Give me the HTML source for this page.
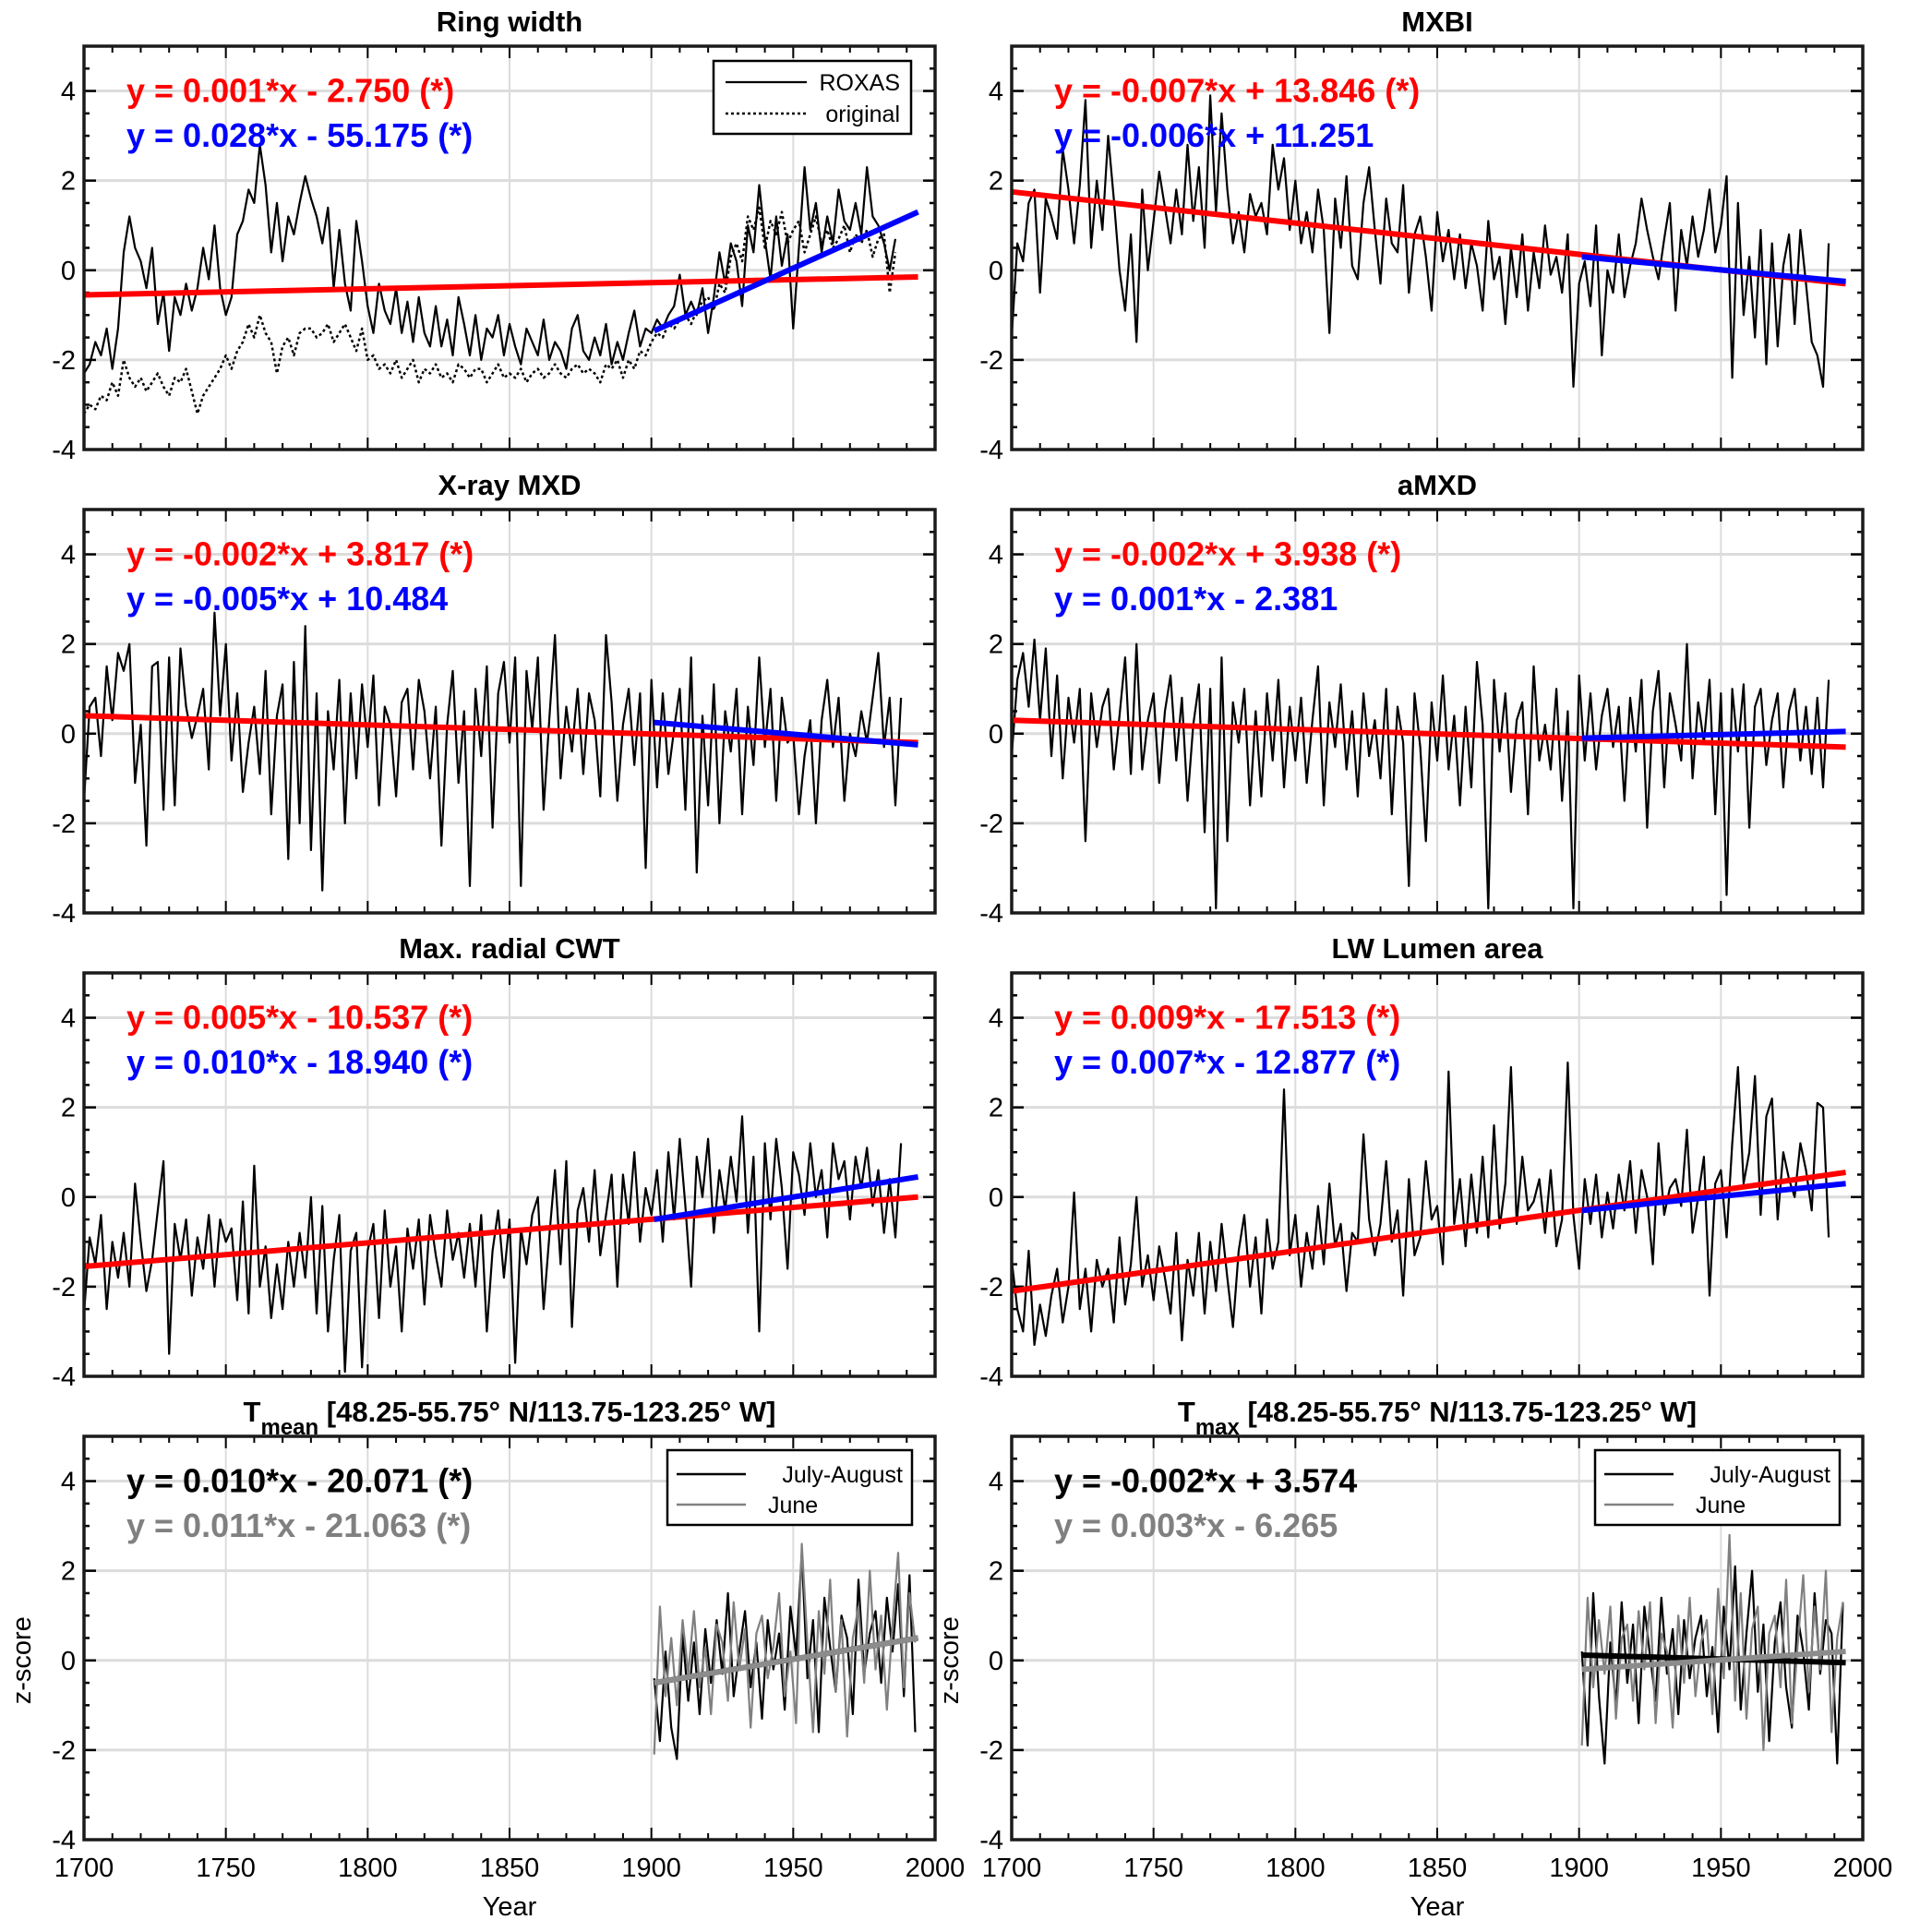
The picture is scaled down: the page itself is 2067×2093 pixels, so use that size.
<!DOCTYPE html>
<html><head><meta charset="utf-8"><style>
html,body{margin:0;padding:0;background:#fff;}
svg{display:block;font-family:"Liberation Sans",Arial,sans-serif;}
</style></head><body>
<svg id="fig" xmlns="http://www.w3.org/2000/svg" width="2067" height="2093" viewBox="0 0 2067 2093"></svg>
<script>
// ---- data (1700..1994 step 2 for proxies; 1901..1994 step 2 for climate) ----
const rwRoxas=[-2.3,-2.1,-1.6,-1.9,-1.3,-2.2,-1.3,0.4,1.2,0.5,0.2,-0.4,0.5,-1.2,-0.5,-1.8,-0.6,-1.0,-0.3,-0.9,-0.4,0.5,-0.2,1.0,-0.4,-1.0,-0.6,0.8,1.1,1.8,1.5,2.8,1.9,0.4,1.5,0.2,1.2,0.8,1.5,2.1,1.6,1.2,0.6,1.4,-0.4,0.9,-0.3,-0.9,1.1,0.2,-0.8,-1.4,-0.3,-0.9,-1.2,-0.4,-1.4,-0.7,-1.6,-0.6,-1.4,-1.7,-0.8,-1.7,-1.1,-1.9,-0.6,-1.2,-1.9,-1.0,-2.0,-1.3,-1.5,-1.0,-1.9,-1.2,-1.7,-2.1,-1.3,-1.6,-1.9,-1.1,-2.0,-1.6,-1.8,-2.2,-1.3,-1.0,-1.8,-2.0,-1.5,-1.9,-1.2,-2.1,-1.6,-2.0,-1.4,-0.9,-1.7,-1.3,-1.4,-1.1,-1.3,-1.0,-0.8,-0.1,-1.0,-0.7,-1.0,-0.4,-1.4,-0.6,0.4,-0.3,0.6,0.2,-0.8,1.0,0.4,1.9,0.7,-0.2,1.2,0.1,0.8,-1.3,0.5,2.3,0.9,1.5,0.4,1.2,0.6,1.8,1.1,0.9,1.5,0.8,2.3,1.2,1.0,0.6,0.0,0.7];
const rwOriginal=[-3.2,-3.0,-3.1,-2.8,-2.9,-2.5,-2.8,-2.0,-2.4,-2.6,-2.4,-2.7,-2.5,-2.3,-2.6,-2.8,-2.4,-2.5,-2.2,-2.7,-3.2,-2.8,-2.6,-2.4,-2.2,-1.9,-2.2,-1.8,-1.6,-1.2,-1.5,-1.0,-1.4,-1.6,-2.3,-1.7,-1.5,-1.9,-1.4,-1.3,-1.3,-1.5,-1.4,-1.2,-1.6,-1.4,-1.2,-1.5,-1.8,-1.3,-2.0,-1.9,-2.2,-2.1,-2.3,-2.0,-2.4,-2.2,-2.0,-2.5,-2.2,-2.3,-2.1,-2.4,-2.3,-2.5,-2.1,-2.2,-2.4,-2.2,-2.2,-2.5,-2.3,-2.1,-2.4,-2.3,-2.4,-2.2,-2.5,-2.3,-2.2,-2.4,-2.3,-2.1,-2.3,-2.4,-2.2,-2.1,-2.3,-2.2,-2.3,-2.5,-2.1,-2.2,-2.0,-2.4,-2.0,-2.2,-1.8,-1.9,-1.6,-1.4,-1.5,-1.2,-1.3,-1.1,-1.0,-1.2,-0.9,-0.7,-0.6,-0.9,-0.3,-0.5,0.3,0.6,0.2,1.2,0.9,1.4,0.5,1.1,0.8,1.3,0.6,0.9,1.1,0.4,0.8,1.2,0.6,0.9,0.5,0.7,1.0,0.4,0.8,0.6,0.9,0.3,0.7,0.8,-0.5,0.4];
const mxbi=[-1.5,0.6,0.2,1.5,1.8,-0.5,1.6,1.2,0.7,2.7,1.8,0.6,1.9,3.8,0.5,2.0,0.9,3.0,1.6,0.0,-0.9,0.8,-1.6,1.8,0.0,1.1,2.2,1.4,0.6,1.8,0.8,2.8,1.1,2.3,0.5,3.9,1.3,3.5,1.8,0.6,1.3,0.4,1.7,1.2,1.5,0.8,2.8,1.8,2.5,0.9,2.0,0.6,1.3,0.4,1.8,0.9,-1.4,1.6,0.5,2.1,0.1,-0.2,1.5,2.3,0.9,-0.3,1.6,0.6,0.4,1.9,-0.5,0.8,1.2,0.3,-0.9,1.3,0.2,0.9,-0.2,0.8,-0.4,0.6,0.1,-0.9,1.1,-0.2,0.3,-1.2,0.5,-0.6,0.8,-0.9,0.4,-0.4,1.0,-0.1,0.3,-0.5,0.8,-2.6,-0.3,0.2,-0.8,1.0,-1.9,0.0,-0.5,0.8,-0.6,0.1,0.6,1.6,0.9,0.3,-0.2,0.7,1.5,-0.9,0.9,0.1,1.2,0.3,0.9,1.8,0.4,1.0,2.1,-2.4,1.5,-1.0,0.3,-1.5,0.9,-2.1,0.6,-1.7,0.1,0.8,-1.2,0.9,-0.3,-1.6,-1.9,-2.6,0.6];
const xrayMxd=[-1.5,0.6,0.8,-0.5,1.5,0.3,1.8,1.4,2.0,-1.1,0.2,-2.5,1.5,1.6,-1.7,1.7,-1.6,1.9,0.6,-0.1,0.4,1.0,-0.8,2.7,0.4,2.0,-0.6,0.9,-1.3,-0.2,0.6,-0.9,1.4,-1.8,0.4,1.1,-2.8,1.6,-2.0,2.4,-2.6,0.9,-3.5,0.5,-0.8,1.2,-2.0,0.9,-1.0,1.1,-0.3,1.3,-1.6,0.6,0.2,-1.4,0.7,1.0,-0.8,1.2,0.5,-1.0,0.6,-2.5,0.2,1.4,-1.1,0.5,-3.4,1.0,-0.5,1.5,-2.1,0.9,1.6,-0.2,1.7,-3.4,1.4,0.1,1.7,-1.7,0.3,2.2,-1.0,0.6,-0.4,1.0,-0.9,0.9,0.3,-1.4,2.2,0.7,-1.5,0.2,1.0,-0.7,0.9,-3.0,1.2,-1.2,0.9,-0.9,0.1,1.0,-1.7,1.7,-3.1,0.4,-1.6,1.1,-2.0,0.5,-0.4,1.0,-1.8,0.6,-0.7,1.7,-0.3,1.0,-1.5,0.8,-0.2,0.0,-1.8,-0.5,0.3,-2.0,0.3,1.2,-0.3,0.8,-1.5,0.0,-0.5,0.5,-0.2,0.8,1.8,-0.3,0.8,-1.6,0.8];
const amxd=[-0.5,1.2,1.8,0.6,2.1,0.3,1.9,-0.5,1.3,-1.0,0.8,-0.2,1.0,-2.4,0.9,-0.3,0.6,1.0,-0.8,0.4,1.7,-0.9,2.0,-0.8,0.3,0.9,-1.1,0.5,1.3,-0.6,0.8,-1.5,0.2,1.1,-2.2,1.0,-3.9,1.7,-2.4,0.7,-0.2,1.0,-1.6,0.5,-1.4,0.9,-0.6,1.2,-1.2,0.6,-0.6,0.8,-1.1,0.3,1.5,-1.6,0.7,-0.3,1.1,-0.8,0.5,-1.4,0.9,-0.5,0.3,-1.0,1.0,-1.8,0.6,-0.2,-3.4,0.9,-0.3,-2.4,0.7,-0.6,1.3,-0.8,0.4,-1.6,0.6,-1.2,1.6,0.2,-3.9,1.2,-0.4,0.9,-1.3,0.3,0.7,-1.8,1.5,-0.6,0.2,-0.8,1.0,-1.5,0.5,-3.9,1.3,-0.6,0.9,-0.8,0.4,1.0,-0.3,0.6,-1.5,0.8,-0.4,1.2,-2.1,0.5,1.4,-1.2,0.9,0.2,-0.6,2.0,-1.0,0.7,-0.2,1.2,-1.8,0.9,-3.6,1.0,-0.4,1.1,-2.1,0.6,1.0,-0.7,0.3,0.9,-1.2,0.5,1.0,-0.6,0.6,-0.9,0.8,-1.2,1.2];
const cwt=[-2.6,-0.9,-1.5,-0.4,-2.5,-1.0,-1.8,-0.8,-2.0,0.3,-1.0,-2.1,-1.4,-0.3,0.8,-3.5,-0.6,-1.4,-0.5,-2.2,-0.9,-1.6,-0.4,-2.0,-0.5,-1.0,-0.7,-2.3,-0.1,-2.6,0.7,-2.0,-1.1,-2.7,-1.5,-2.5,-1.0,-2.0,-0.8,-1.8,0.0,-2.6,-0.2,-3.0,-1.4,-0.4,-3.9,-1.2,-0.8,-3.8,-1.2,-0.6,-2.7,-0.3,-2.0,-1.1,-3.0,-0.7,-1.6,-0.5,-2.4,-0.4,-1.3,-2.0,-0.3,-1.4,-0.8,-1.8,-0.6,-2.0,-0.4,-3.0,-1.2,-0.3,-1.8,-0.5,-3.7,-0.7,-1.5,-0.4,0.0,-2.5,-0.9,0.6,-1.5,0.8,-2.9,-0.3,0.2,-1.0,0.6,-1.3,-0.4,0.5,-2.0,0.5,-0.6,1.0,-1.0,0.2,-0.4,0.6,-1.0,1.0,-0.5,1.3,-0.2,-2.0,0.9,0.0,1.3,-0.8,0.6,-0.3,0.9,-0.1,1.8,-0.8,0.9,-3.0,1.2,-0.5,1.3,0.2,-1.6,1.0,0.5,-0.4,1.2,0.0,0.6,-0.9,1.2,0.4,0.8,-0.5,0.9,0.2,1.1,-0.2,0.6,-0.8,0.4,-0.9,1.2];
const lumen=[-1.4,-2.5,-3.0,-1.2,-3.3,-2.4,-3.1,-2.2,-1.6,-2.8,-2.0,0.1,-2.5,-1.6,-3.0,-1.4,-2.0,-1.6,-2.8,-0.9,-2.4,-1.5,0.0,-2.0,-1.3,-2.3,-1.1,-1.8,-2.6,-0.8,-3.2,-1.4,-2.2,-0.8,-2.6,-1.0,-2.1,-0.6,-1.8,-2.9,-1.2,-0.4,-2.0,-0.9,-2.6,-0.5,-1.6,-1.0,2.4,-1.3,-0.4,-2.0,-0.8,-1.6,-0.2,-1.5,0.3,-1.1,-0.6,-2.1,-0.8,-1.0,1.4,-0.5,-1.3,-0.6,0.8,-1.0,-0.3,-2.2,0.4,-1.3,-0.9,0.8,-0.5,-0.2,-1.5,2.8,-0.6,0.4,-1.1,0.5,-0.8,0.9,-0.9,1.6,-0.7,0.3,2.9,-0.6,0.9,-0.3,-0.1,0.4,-0.8,0.6,-1.1,-0.5,3.0,-0.4,-1.6,0.4,-0.6,0.5,-0.9,0.1,-0.7,0.5,-0.3,0.8,-0.8,0.6,0.0,-1.5,1.2,-0.4,0.2,0.4,-0.2,1.5,-0.8,0.0,0.9,-2.2,0.3,0.6,-0.9,1.2,2.9,0.3,1.0,2.7,-0.4,1.8,2.2,-0.5,1.0,0.4,0.0,1.2,0.6,-0.3,2.1,2.0,-0.9];
const tmeanJA=[-0.4,-1.8,0.2,-1.5,-2.2,0.6,-0.9,0.4,-1.2,0.7,-0.5,0.9,-0.3,1.5,-0.8,0.2,1.1,-0.6,0.4,-1.3,0.9,-0.2,0.6,-1.1,1.2,0.1,2.4,-0.4,0.9,-1.6,1.4,0.3,-0.7,1.0,0.5,-1.2,1.8,-0.3,0.6,1.1,-0.5,1.4,0.2,1.7,-0.8,1.9,-1.6];
const tmeanJune=[-2.1,1.2,-0.8,0.5,-1.0,0.9,-0.3,1.1,-0.6,0.3,-1.2,0.8,0.4,-0.9,1.3,-0.2,0.7,-1.5,0.6,1.0,-0.4,0.3,1.5,-0.8,0.2,-1.4,2.6,0.4,-1.6,1.1,-0.3,1.8,-0.7,0.9,-1.7,0.5,1.2,-0.5,2.0,-0.2,1.0,-1.1,0.8,2.4,-0.6,1.5,0.4];
const tmaxJA=[0.2,-1.9,1.5,-0.8,-2.3,0.4,-1.0,1.3,-0.5,0.8,-1.4,1.2,0.1,-0.9,1.4,-0.3,0.7,-1.2,0.9,-0.4,0.5,1.0,-0.8,0.3,-1.6,1.2,-0.2,2.1,-1.1,0.6,2.0,-0.7,0.8,-1.8,0.4,1.3,-0.6,-1.5,1.0,0.2,-1.1,1.5,-0.3,0.9,0.6,-2.3,1.3];
const tmaxJune=[-1.9,1.4,-0.6,0.9,-0.3,1.2,-1.3,0.5,0.8,-0.9,1.1,-0.2,1.3,-1.4,0.6,0.2,-1.5,1.0,-0.5,1.4,-0.8,0.4,0.9,-1.2,1.6,-0.4,2.8,-0.9,1.5,-1.3,0.7,1.2,-2.0,0.6,1.0,-0.6,1.8,-1.4,0.3,1.9,-0.7,1.2,-0.2,2.0,-1.6,0.5,1.3];
// trend line endpoints [startYear, startVal, endYear, endVal]
const trendRed=[[1700,-0.55,1994,-0.15],[1700,1.75,1994,-0.3],[1700,0.4,1994,-0.2],[1700,0.3,1994,-0.3],[1700,-1.55,1994,0.0],[1700,-2.1,1994,0.55]];
const trendBlue=[[1901,-1.35,1994,1.3],[1901,0.3,1994,-0.25],[1901,0.25,1994,-0.25],[1901,-0.1,1994,0.05],[1901,-0.5,1994,0.45],[1901,-0.3,1994,0.3]];
const trendClimBlack=[[1901,-0.5,1994,0.5],[1901,0.12,1994,-0.05]];
const trendClimGray=[[1901,-0.5,1994,0.5],[1901,-0.2,1994,0.2]];
const titles=["Ring width","MXBI","X-ray MXD","aMXD","Max. radial CWT","LW Lumen area"];
const eqRed=["y = 0.001*x - 2.750 (*)","y = -0.007*x + 13.846 (*)","y = -0.002*x + 3.817 (*)","y = -0.002*x + 3.938 (*)","y = 0.005*x - 10.537 (*)","y = 0.009*x - 17.513 (*)"];
const eqBlue=["y = 0.028*x - 55.175 (*)","y = -0.006*x + 11.251","y = -0.005*x + 10.484","y = 0.001*x - 2.381","y = 0.010*x - 18.940 (*)","y = 0.007*x - 12.877 (*)"];
const yTicks=[-4,-2,0,2,4];
const xTicks=[1700,1750,1800,1850,1900,1950,2000];

const NS="http://www.w3.org/2000/svg";
const svg=document.getElementById('fig');
function el(tag,attrs,parent){const e=document.createElementNS(NS,tag);for(const k in attrs)e.setAttribute(k,attrs[k]);(parent||svg).appendChild(e);return e;}
const colX=[91,1096], W=922, rowY=[50,552,1054,1556], H=437;
const EQF=36;
function mk(col,row){
  const x0=colX[col], y0=rowY[row];
  return {x0,y0,sx:v=>x0+(v-1700)/300*W, sy:v=>y0+(5-v)/9*H};
}
function line(g,ax,xs,ys,color,w,dash,name){
  let d='';for(let i=0;i<ys.length;i++){d+=(i?'L':'M')+ax.sx(xs[i]).toFixed(1)+' '+ax.sy(ys[i]).toFixed(1);}
  const p=el('path',{d:d,fill:'none',stroke:color,'stroke-width':w,'stroke-linejoin':'round'},g);
  if(dash)p.setAttribute('stroke-dasharray',dash);
  
  
  return p;
}
function yrs(start,n){const a=[];for(let i=0;i<n;i++)a.push(start+2*i);return a;}
function trend(g,ax,t,color,w,name){
  const p=el('line',{x1:ax.sx(t[0]),y1:ax.sy(t[1]),x2:ax.sx(t[2]),y2:ax.sy(t[3]),stroke:color,'stroke-width':w},g);
  
  
}
function panel(col,row,idx){
  const ax=mk(col,row);
  const g=el('g',{});
  
  
  xTicks.slice(1,-1).forEach(t=>{el('line',{x1:ax.sx(t),x2:ax.sx(t),y1:ax.y0,y2:ax.y0+H,stroke:'#dcdcdc','stroke-width':2},g);});
  yTicks.slice(1).forEach(t=>{el('line',{x1:ax.x0,x2:ax.x0+W,y1:ax.sy(t),y2:ax.sy(t),stroke:'#dcdcdc','stroke-width':3},g);});
  for(let y=1700;y<=2000;y+=10){const len=(y%50===0)?13:7;const x=ax.sx(y);
    el('line',{x1:x,x2:x,y1:ax.y0,y2:ax.y0+len,stroke:'#000','stroke-width':2},g);
    el('line',{x1:x,x2:x,y1:ax.y0+H,y2:ax.y0+H-len,stroke:'#000','stroke-width':2},g);}
  for(let v=-4;v<=5;v+=0.5){const len=(v%2===0)?13:6;const y=ax.sy(v);
    el('line',{x1:ax.x0,x2:ax.x0+len,y1:y,y2:y,stroke:'#000','stroke-width':2.5},g);
    el('line',{x1:ax.x0+W,x2:ax.x0+W-len,y1:y,y2:y,stroke:'#000','stroke-width':2.5},g);}
  yTicks.forEach(t=>{const tx=el('text',{x:ax.x0-9,y:ax.sy(t)+10,'text-anchor':'end','font-size':29},g);tx.textContent=t;
    
    });
  return {ax,g};
}
const proxies=[[rwRoxas,0,0],[mxbi,1,0],[xrayMxd,0,1],[amxd,1,1],[cwt,0,2],[lumen,1,2]];
proxies.forEach((p,i)=>{
  const {ax,g}=panel(p[1],p[2],i);
  if(i===0) line(g,ax,yrs(1700,rwOriginal.length),rwOriginal,'#000',2.5,'3 3','original-series');
  line(g,ax,yrs(1700,p[0].length),p[0],'#000',2.2,null,'proxy-series');
  trend(g,ax,trendRed[i],'#ff0000',6,'trend-full-period');
  trend(g,ax,trendBlue[i],'#0000ff',6,'trend-1901-onward');
  const t=el('text',{x:ax.x0+W/2,y:ax.y0-16,'text-anchor':'middle','font-size':31,'font-weight':'bold'});t.textContent=titles[i];
  
  
  const e1=el('text',{x:ax.x0+46,y:ax.sy(4)+12,'font-size':EQF,'font-weight':'bold',fill:'#ff0000'});e1.textContent=eqRed[i];
  
  
  const e2=el('text',{x:ax.x0+46,y:ax.sy(3)+12,'font-size':EQF,'font-weight':'bold',fill:'#0000ff'});e2.textContent=eqBlue[i];
  
  
  if(i===0){
    const lg=el('g',{});
    
    
    el('rect',{x:773,y:66,width:214,height:79,fill:'#fff',stroke:'#000','stroke-width':2.5},lg);
    el('line',{x1:786,x2:874,y1:89,y2:89,stroke:'#000','stroke-width':2.2},lg);
    el('line',{x1:786,x2:874,y1:123,y2:123,stroke:'#000','stroke-width':2.5,'stroke-dasharray':'3 3'},lg);
    const a=el('text',{x:975,y:98,'text-anchor':'end','font-size':25},lg);a.textContent='ROXAS';
    const b=el('text',{x:975,y:132,'text-anchor':'end','font-size':25},lg);b.textContent='original';
  }
});
const clim=[[tmeanJA,tmeanJune,'mean',"y = 0.010*x - 20.071 (*)","y = 0.011*x - 21.063 (*)"],[tmaxJA,tmaxJune,'max',"y = -0.002*x + 3.574","y = 0.003*x - 6.265"]];
clim.forEach((c,i)=>{
  const {ax,g}=panel(i,3,6+i);
  line(g,ax,yrs(1901,c[0].length),c[0],'#000',2.2,null,'july-august-series');
  line(g,ax,yrs(1901,c[1].length),c[1],'#808080',2.2,null,'june-series');
  trend(g,ax,trendClimBlack[i],'#000',6,'trend-july-august');
  trend(g,ax,trendClimGray[i],'#8c8c8c',6,'trend-june');
  const t=el('text',{x:ax.x0+W/2,y:ax.y0-16,'text-anchor':'middle','font-size':31,'font-weight':'bold'});
  
  
  const s1=el('tspan',{},t);s1.textContent='T';
  const s2=el('tspan',{'font-size':24,dy:14},t);s2.textContent=c[2];
  const s3=el('tspan',{dy:-14},t);s3.textContent=' [48.25-55.75° N/113.75-123.25° W]';
  const e1=el('text',{x:ax.x0+46,y:ax.sy(4)+12,'font-size':EQF,'font-weight':'bold',fill:'#000'});e1.textContent=c[3];
  
  
  const e2=el('text',{x:ax.x0+46,y:ax.sy(3)+12,'font-size':EQF,'font-weight':'bold',fill:'#808080'});e2.textContent=c[4];
  
  
  const lx=ax.x0+632, ly=1571;
  const lg=el('g',{});
  
  
  el('rect',{x:lx,y:ly,width:265,height:81,fill:'#fff',stroke:'#000','stroke-width':2.5},lg);
  el('line',{x1:lx+10,x2:lx+85,y1:ly+26,y2:ly+26,stroke:'#000','stroke-width':2.5},lg);
  el('line',{x1:lx+10,x2:lx+85,y1:ly+59,y2:ly+59,stroke:'#808080','stroke-width':2.5},lg);
  const a=el('text',{x:lx+255,y:ly+35,'text-anchor':'end','font-size':25},lg);a.textContent='July-August';
  const b=el('text',{x:lx+109,y:ly+68,'font-size':25},lg);b.textContent='June';
  xTicks.forEach(tk=>{const tx=el('text',{x:ax.sx(tk),y:2033,'text-anchor':'middle','font-size':29});tx.textContent=tk;
    
    });
  const xl=el('text',{x:ax.x0+W/2,y:2075,'text-anchor':'middle','font-size':29});xl.textContent='Year';
  
  
  const yl=el('text',{x:0,y:0,'text-anchor':'middle','font-size':29,transform:'translate('+(ax.x0-58)+','+ax.sy(0)+') rotate(-90)'});yl.textContent='z-score';
  
  
});
[[0,0],[1,0],[0,1],[1,1],[0,2],[1,2],[0,3],[1,3]].forEach(p=>{
  const r=el('rect',{x:colX[p[0]],y:rowY[p[1]],width:W,height:H,fill:'none',stroke:'#1a1a1a','stroke-width':3.5});
  
  
});
</script>
</body></html>
